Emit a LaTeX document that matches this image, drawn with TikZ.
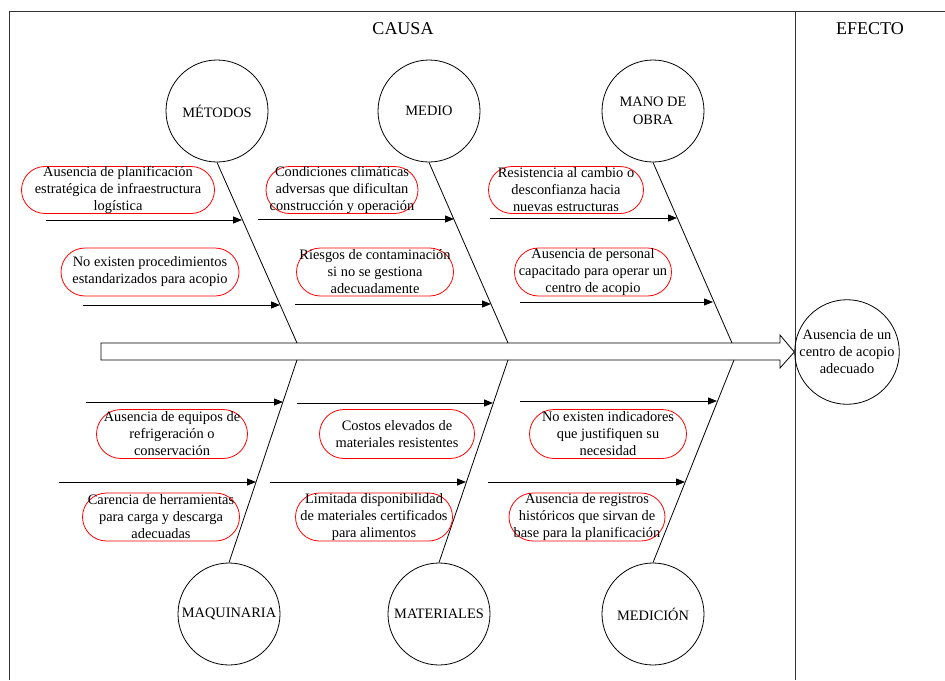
\documentclass[tikz,border=0pt]{standalone}
\usepackage{fontspec}
\setmainfont{Liberation Serif}
\usetikzlibrary{shapes.misc,arrows.meta}
\begin{document}
\begin{tikzpicture}[x=1pt,y=-1pt,
  cause/.style={circle, draw, minimum size=102pt, inner sep=0pt, align=center, line width=0.8pt, font=\fontsize{14.4}{18}\selectfont},
  cbox/.style={rounded rectangle, draw=red, minimum height=47pt, inner sep=0pt, line width=0.8pt},
  ctext/.style={align=center, inner sep=0pt, font=\fontsize{14.4}{17}\selectfont},
  branch/.style={-{Triangle[length=9pt,width=7pt]}, line width=0.8pt},
  bone/.style={line width=0.8pt},
  frame/.style={line width=1pt, black!80},
  head/.style={font=\fontsize{18}{20}\selectfont}]
\useasboundingbox (0,0) rectangle (945,680);
% frame
\coordinate (fTL) at (9,11);
\coordinate (fTR) at (945,11);
\coordinate (fBL) at (9,680);
\coordinate (dT) at (795,11);
\coordinate (dB) at (795,680);
\draw[frame] (fBL) -- (fTL) -- (fTR);
\draw[frame] (dT) -- (dB);
\node[head] (causa) at (403,29) {CAUSA};
\node[head] (efecto) at (870,29) {EFECTO};
% category circles
\node[cause] (met) at (217,111) {MÉTODOS};
\node[cause] (med) at (429,111) {MEDIO};
\node[cause] (man) at (653,111) {MANO DE\\OBRA};
\node[cause] (maq) at (229,614) {MAQUINARIA};
\node[cause] (mat) at (439,614) {MATERIALES};
\node[cause] (mdc) at (653,614) {MEDICIÓN};
\node[cause, font=\fontsize{14.4}{17}\selectfont] (eff) at (847,352) {Ausencia de un\\centro de acopio\\adecuado};
% spine
\coordinate (s1t) at (297,343);
\coordinate (s1b) at (297,360);
\coordinate (s2t) at (508,343);
\coordinate (s2b) at (508,360);
\coordinate (s3t) at (732,343);
\coordinate (s3b) at (734,360);
\draw[line width=0.8pt] (101,343) -- (780,343) -- (780,335) -- (eff.west) -- (780,368) -- (780,360) -- (101,360) -- cycle;
% bones
\draw[bone] (met.south) -- (s1t);
\draw[bone] (med.south) -- (s2t);
\draw[bone] (man.south) -- (s3t);
\draw[bone] (maq.north) -- (s1b);
\draw[bone] (mat.north) -- (s2b);
\draw[bone] (mdc.north) -- (s3b);
% branch arrows
\coordinate (a1s) at (46,220);  \coordinate (a1e) at (242,220);
\coordinate (a2s) at (258,219); \coordinate (a2e) at (454,219);
\coordinate (a3s) at (490,218); \coordinate (a3e) at (677,218);
\coordinate (b1s) at (83,305);  \coordinate (b1e) at (280,305);
\coordinate (b2s) at (295,304); \coordinate (b2e) at (491,304);
\coordinate (b3s) at (520,302); \coordinate (b3e) at (713,302);
\coordinate (c1s) at (86,402);  \coordinate (c1e) at (283,402);
\coordinate (c2s) at (297,403); \coordinate (c2e) at (493,403);
\coordinate (c3s) at (520,401); \coordinate (c3e) at (717,401);
\coordinate (d1s) at (59,482);  \coordinate (d1e) at (256,482);
\coordinate (d2s) at (270,482); \coordinate (d2e) at (466,482);
\coordinate (d3s) at (488,482); \coordinate (d3e) at (685,482);
\foreach \r in {a,b,c,d}{\foreach \i in {1,2,3}{\draw[branch] (\r\i s) -- (\r\i e);}}
% cause boxes
\node[cbox, minimum width=193pt] (A1) at (118,190) {};
\node[ctext] (A1t) at (A1) {Ausencia de planificación\\estratégica de infraestructura\\logística};
\node[cbox, minimum width=152pt] (A2) at (342,190) {};
\node[ctext] (A2t) at (A2) {Condiciones climáticas\\adversas que dificultan\\construcción y operación};
\node[cbox, minimum width=155pt] (A3) at (566,190) {};
\node[ctext] (A3t) at (A3) {Resistencia al cambio o\\desconfianza hacia\\nuevas estructuras};
\node[cbox, minimum width=178pt, minimum height=48pt] (B1) at (150,272) {};
\node[ctext] (B1t) at (B1) {No existen procedimientos\\estandarizados para acopio};
\node[cbox, minimum width=157pt, minimum height=48pt] (B2) at (375,272) {};
\node[ctext] (B2t) at (B2) {Riesgos de contaminación\\si no se gestiona\\adecuadamente};
\node[cbox, minimum width=157pt, minimum height=48pt] (B3) at (593,272) {};
\node[ctext] (B3t) at (B3) {Ausencia de personal\\capacitado para operar un\\centro de acopio};
\node[cbox, minimum width=151pt, minimum height=49pt] (C1) at (172,434) {};
\node[ctext] (C1t) at (C1) {Ausencia de equipos de\\refrigeración o\\conservación};
\node[cbox, minimum width=155pt, minimum height=49pt] (C2) at (397,434) {};
\node[ctext] (C2t) at (C2) {Costos elevados de\\materiales resistentes};
\node[cbox, minimum width=157pt, minimum height=49pt] (C3) at (608,434) {};
\node[ctext] (C3t) at (C3) {No existen indicadores\\que justifiquen su\\necesidad};
\node[cbox, minimum width=157pt, minimum height=48pt] (D1) at (161,517) {};
\node[ctext] (D1t) at (D1) {Carencia de herramientas\\para carga y descarga\\adecuadas};
\node[cbox, minimum width=157pt, minimum height=48pt] (D2) at (374,517) {};
\node[ctext] (D2t) at (D2) {Limitada disponibilidad\\de materiales certificados\\para alimentos};
\node[cbox, minimum width=156pt, minimum height=48pt] (D3) at (587,517) {};
\node[ctext] (D3t) at (D3) {Ausencia de registros\\históricos que sirvan de\\base para la planificación};
\end{tikzpicture}
\end{document}
